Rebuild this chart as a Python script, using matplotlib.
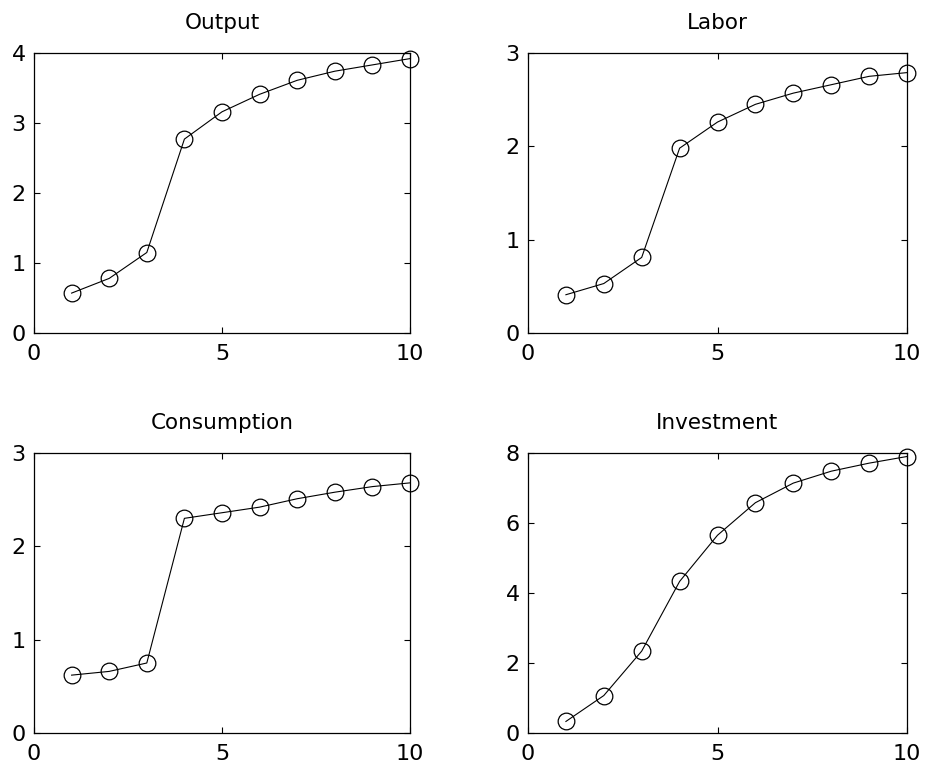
import numpy as np
import matplotlib
matplotlib.use("Agg")
import matplotlib.pyplot as plt

plt.rcParams['font.family'] = ['DejaVu Sans']

periods = [1, 2, 3, 4, 5, 6, 7, 8, 9, 10]
output = [0.57, 0.78, 1.15, 2.77, 3.16, 3.41, 3.61, 3.74, 3.83, 3.92]
labor = [0.41, 0.53, 0.81, 1.98, 2.26, 2.45, 2.57, 2.66, 2.75, 2.79]
consumption = [0.62, 0.66, 0.75, 2.30, 2.36, 2.42, 2.51, 2.58, 2.64, 2.68]
investment = [0.33, 1.07, 2.34, 4.33, 5.65, 6.58, 7.14, 7.48, 7.71, 7.90]

titles = ['Output', 'Labor', 'Consumption', 'Investment']
series = [output, labor, consumption, investment]
ylims = [4, 3, 3, 8]
yticks = [[0, 1, 2, 3, 4], [0, 1, 2, 3], [0, 1, 2, 3], [0, 2, 4, 6, 8]]

W, H = 925, 773
fig = plt.figure(figsize=(W / 100, H / 100), dpi=100)

# axes boxes in pixels: (left, top, right, bottom)
boxes = [(34, 53, 410, 333), (528, 53, 907, 333),
         (34, 453, 410, 733), (528, 453, 907, 733)]

for i in range(4):
    l, t, r, b = boxes[i]
    ax = fig.add_axes([l / W, 1 - b / H, (r - l) / W, (b - t) / H])
    ax.plot(periods, series[i], color='black', lw=0.8, marker='o',
            markersize=12, markerfacecolor='none', markeredgecolor='black',
            markeredgewidth=0.9, clip_on=False)
    ax.set_xlim(0, 10)
    ax.set_ylim(0, ylims[i])
    ax.set_xticks([0, 5, 10])
    ax.set_yticks(yticks[i])
    ax.tick_params(direction='in', length=4, width=0.8, top=True, right=True,
                   labelsize=16, colors='black')
    ax.tick_params(axis='x', pad=8)
    ax.tick_params(axis='y', pad=6)
    for s in ax.spines.values():
        s.set_linewidth(0.9)
    ax.set_title(titles[i], fontsize=15.5, pad=17)

fig.savefig('out.png', dpi=100)
